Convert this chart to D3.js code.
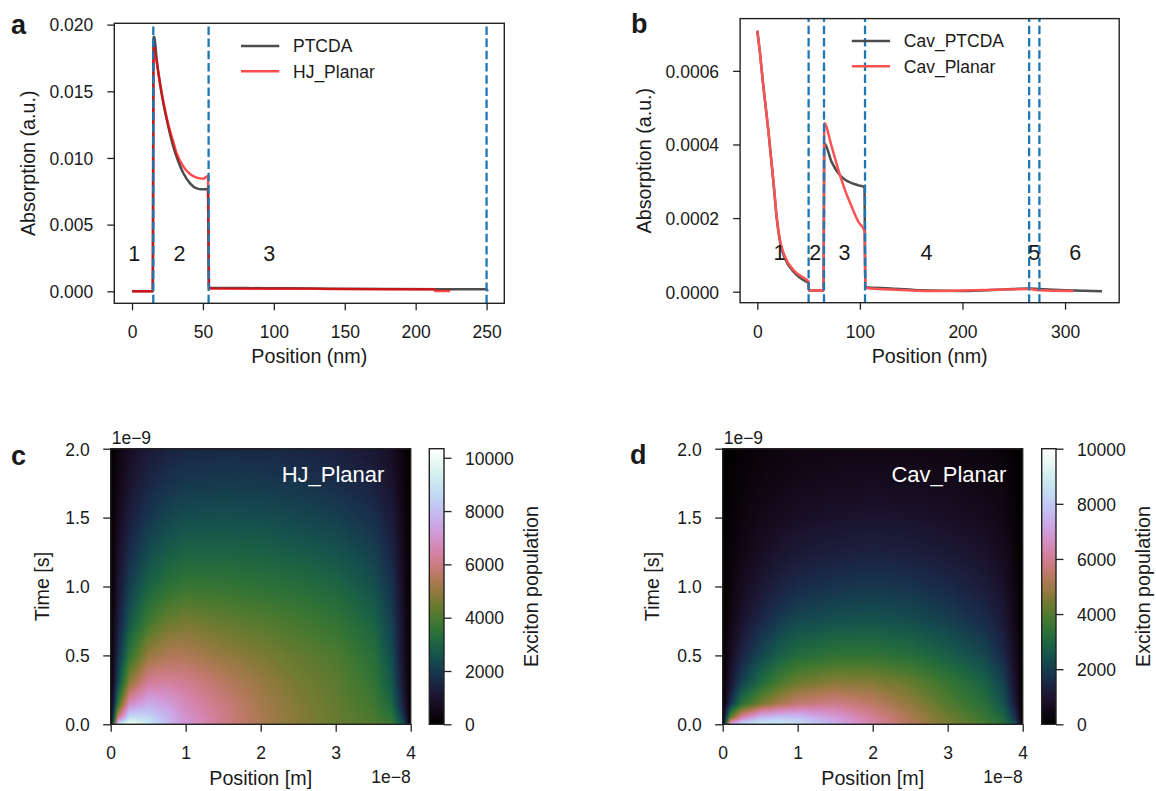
<!DOCTYPE html>
<html>
<head>
<meta charset="utf-8">
<script src="https://cdn.jsdelivr.net/npm/d3@7"></script>
<style>
  body { margin: 0; background: #fff; }
  svg text { font-family: "Liberation Sans", Arial, sans-serif; fill: #1a1a1a; }
</style>
</head>
<body>
<div id="fig"></div>
<script>
// ---------- data ----------
// panel a: absorption (a.u.) vs position (nm)
const ptcdaLine = [[0,0],[14.6,0],[15.2,0.0191],[15.8,0.0190],[17.4,0.01735],[19.7,0.0156],[22.1,0.0141],
  [25.6,0.01235],[29.1,0.01085],[32.7,0.00972],[36.2,0.00885],[40.9,0.0081],[45.6,0.00772],[49.5,0.00765],
  [53.5,0.00767],[54.2,0.00025],[80,0.00024],[110,0.00023],[140,0.0002],[180,0.00017],[220,0.00016],
  [250,0.00016],[250.8,0]];
const hjPlanarLine = [[0,0],[14.6,0],[15.2,0.0183],[15.8,0.0182],[17.4,0.0172],[19.7,0.0156],[22.1,0.0142],
  [25.6,0.0125],[29.1,0.0112],[31.5,0.01035],[36.2,0.00935],[40.9,0.0088],[45.6,0.00853],[50.3,0.00845],
  [53.6,0.00865],[54.3,0.00021],[80,0.0002],[110,0.0002],[140,0.00018],[180,0.00016],[213,0.00015],
  [213.6,0.00003],[224.3,0.00003]];
const layerBoundsA = [15, 54, 250];
const regionNamesA = ["1", "2", "3"];
const regionPosA = [1.6, 33.4, 96.8];
const regionLevelA = 0.00285;

// panel b
const cavPtcdaLine = [[0,0.000709],[2.6,0.000648],[5.9,0.000557],[10.7,0.000439],[15.6,0.0003],[18.9,0.0002],
  [22.1,0.000135],[27,0.00009],[35.1,0.000055],[48.2,0.000027],[49.8,0.000025],[50.4,0.000003],[64.5,0.000003],
  [65.3,0.000403],[72.5,0.000352],[79,0.000322],[85.5,0.000304],[92,0.000295],[98.5,0.000289],[104.5,0.000284],
  [105.3,0.000012],[130,0.000009],[160,0.000004],[200,0.000002],[240,0.000006],[265,0.000009],[275,0.000007],
  [300,0.000004],[336,0.000001]];
const cavPlanarLine = [[0,0.000709],[2.6,0.000648],[5.9,0.000557],[10.7,0.000439],[15.6,0.000304],[18.9,0.000204],
  [22.1,0.00014],[27,0.000095],[35.1,0.000059],[48.2,0.000032],[49.8,0.000028],[50.4,0.000003],[64.5,0.000003],
  [65.3,0.000458],[72.5,0.000394],[79,0.000331],[85.5,0.000276],[92,0.000231],[98.5,0.00019],[104.5,0.000165],
  [105.3,0.00001],[130,0.000006],[170,0.000002],[210,0.000004],[240,0.000006],[265,0.000007],[275,0.000004],
  [308,0.000002]];
const layerBoundsB = [50, 65, 105, 265, 275];
const regionNamesB = ["1", "2", "3", "4", "5", "6"];
const regionPosB = [21.5, 56.5, 85, 165, 270, 310];
const regionLevelB = 0.000106;

// panels c, d: exciton population on a (position 1e-8 m, time 1e-9 s) grid
const heatX = [0, 0.1, 0.25, 0.5, 0.75, 1.0, 1.5, 2.0, 2.5, 3.0, 3.5, 3.75, 3.9, 4.0];
const heatT = [0, 0.05, 0.15, 0.3, 0.5, 0.75, 1.0, 1.25, 1.5, 1.75, 2.0];
const hjPlanarPop = [
  [0, 9000, 10300, 9300, 8000, 7100, 6100, 5300, 4800, 4400, 4100, 3800, 2600, 0],
  [0, 6000, 8800, 8600, 7800, 7000, 6100, 5300, 4800, 4400, 4000, 3500, 1900, 0],
  [0, 3700, 6800, 7600, 7300, 6700, 5950, 5250, 4750, 4350, 3850, 3050, 1350, 0],
  [0, 2400, 4900, 6300, 6400, 6200, 5600, 5050, 4600, 4250, 3650, 2700, 1050, 0],
  [0, 1750, 3600, 5000, 5400, 5400, 5000, 4700, 4350, 4050, 3400, 2400, 900, 0],
  [0, 1300, 2650, 3800, 4400, 4600, 4350, 4150, 3900, 3600, 3000, 2100, 800, 0],
  [0, 1050, 2100, 3000, 3450, 3700, 3650, 3500, 3350, 3100, 2550, 1800, 700, 0],
  [0, 850, 1650, 2400, 2800, 3000, 3000, 2950, 2800, 2600, 2150, 1500, 600, 0],
  [0, 650, 1300, 1900, 2250, 2450, 2500, 2450, 2300, 2130, 1750, 1230, 490, 0],
  [0, 500, 1000, 1500, 1800, 1950, 2000, 1980, 1880, 1720, 1400, 980, 400, 0],
  [0, 380, 780, 1180, 1400, 1550, 1600, 1580, 1500, 1360, 1100, 780, 320, 0]
];
const cavPlanarPop = [
  [0, 7200, 8600, 9000, 8900, 8500, 7400, 6300, 5300, 4500, 3800, 3300, 2300, 0],
  [0, 4200, 6200, 7600, 7900, 7800, 7000, 6050, 5150, 4350, 3600, 2950, 1750, 0],
  [0, 1700, 3300, 4400, 5100, 5600, 5900, 5450, 4800, 4000, 3250, 2450, 1150, 0],
  [0, 1000, 2100, 3100, 3850, 4350, 4700, 4650, 4250, 3600, 2850, 2050, 880, 0],
  [0, 650, 1400, 2200, 2800, 3150, 3450, 3450, 3250, 2800, 2200, 1500, 660, 0],
  [0, 420, 930, 1500, 1950, 2250, 2450, 2500, 2380, 2060, 1620, 1130, 480, 0],
  [0, 280, 640, 1060, 1360, 1580, 1780, 1880, 1780, 1540, 1200, 860, 365, 0],
  [0, 190, 440, 740, 960, 1120, 1270, 1340, 1280, 1120, 880, 630, 260, 0],
  [0, 130, 300, 510, 660, 780, 890, 950, 910, 800, 620, 450, 185, 0],
  [0, 85, 200, 350, 450, 540, 620, 660, 630, 560, 430, 320, 130, 0],
  [0, 55, 135, 235, 310, 370, 420, 440, 420, 370, 290, 215, 90, 0]
];
const colorMaxC = 10340;
const colorMaxD = 10000;
const colorTicks = [0, 2000, 4000, 6000, 8000, 10000];

// ---------- drawing ----------
const TICK_FS = 17.5, LABEL_FS = 19.7;
const svg = d3.select("#fig").append("svg")
    .attr("width", 1156)
    .attr("height", 791)
    .style("background", "#fff");
const defs = svg.append("defs");

function styleAxis(sel) {
  sel.attr("font-size", null).attr("font-family", null);
  sel.select(".domain").remove();
  sel.selectAll(".tick line").attr("stroke", "#222").attr("stroke-width", 1.3);
  sel.selectAll(".tick text").attr("fill", "#1a1a1a").style("font-size", TICK_FS + "px");
}

function frame(g, b) {
  g.append("rect")
    .attr("x", b.x0).attr("y", b.y0)
    .attr("width", b.x1 - b.x0).attr("height", b.y1 - b.y0)
    .attr("fill", "none").attr("stroke", "#222").attr("stroke-width", 1.4);
}

function letter(t, x, y) {
  svg.append("text").attr("x", x).attr("y", y)
    .style("font-size", "27px").style("font-weight", "bold").text(t);
}

function linePanel(o) {
  const b = o.box;
  const x = d3.scaleLinear().domain(o.xDomain).range([b.x0, b.x1]);
  const y = d3.scaleLinear().domain(o.yDomain).range([b.y1, b.y0]);
  const g = svg.append("g");

  defs.append("clipPath").attr("id", o.id + "-clip")
    .append("rect").attr("x", b.x0).attr("y", b.y0)
    .attr("width", b.x1 - b.x0).attr("height", b.y1 - b.y0);
  const plot = g.append("g").attr("clip-path", `url(#${o.id}-clip)`);

  const line = d3.line().x(d => x(d[0])).y(d => y(d[1])).curve(d3.curveMonotoneX);
  o.series.forEach(s => {
    plot.append("path")
      .attr("d", line(s.data))
      .attr("fill", "none")
      .attr("stroke", s.color)
      .attr("stroke-opacity", s.opacity)
      .attr("stroke-width", 2.5)
      .attr("stroke-linejoin", "round");
  });

  plot.selectAll("line.bound")
    .data(o.bounds)
    .join("line")
      .attr("class", "bound")
      .attr("x1", d => x(d)).attr("x2", d => x(d))
      .attr("y1", b.y1).attr("y2", b.y0)
      .attr("stroke", "#1f77b4")
      .attr("stroke-width", 2.3)
      .attr("stroke-dasharray", "8.5,3.7");

  g.append("g").selectAll("text")
    .data(o.regionNames)
    .join("text")
      .attr("x", (d, i) => x(o.regionPos[i]))
      .attr("y", y(o.regionLevel))
      .attr("dy", "0.36em")
      .attr("text-anchor", "middle")
      .style("font-size", "21.5px")
      .text(d => d);

  g.append("g").attr("transform", `translate(0,${b.y1})`)
    .call(d3.axisBottom(x).tickValues(o.xTicks).tickFormat(d3.format("d")).tickSize(7).tickPadding(15.5))
    .call(styleAxis);
  g.append("g").attr("transform", `translate(${b.x0},0)`)
    .call(d3.axisLeft(y).tickValues(o.yTicks).tickFormat(d3.format(o.yFormat)).tickSize(7).tickPadding(14))
    .call(styleAxis)
    .selectAll(".tick text").attr("dy", "0.36em");
  frame(g, b);

  g.append("text")
    .attr("x", (b.x0 + b.x1) / 2).attr("y", 363)
    .attr("text-anchor", "middle").style("font-size", LABEL_FS + "px")
    .text("Position (nm)");
  g.append("text")
    .attr("transform", `translate(${o.yLabelX},${(b.y0 + b.y1) / 2}) rotate(-90)`)
    .attr("text-anchor", "middle").style("font-size", LABEL_FS + "px")
    .text("Absorption (a.u.)");

  const lg = g.append("g");
  o.series.forEach((s, i) => {
    const ly = o.legend.y + i * 25.3;
    lg.append("line")
      .attr("x1", o.legend.x).attr("x2", o.legend.x + 38.3)
      .attr("y1", ly).attr("y2", ly)
      .attr("stroke", s.color).attr("stroke-opacity", s.opacity).attr("stroke-width", 2.5);
    lg.append("text")
      .attr("x", o.legend.x + 52).attr("y", ly).attr("dy", "0.36em")
      .style("font-size", "17.5px").text(s.name);
  });
}

const cubeLut = d3.range(1024).map(i => d3.rgb(d3.interpolateCubehelixDefault(i / 1023)));

function heatPanel(o) {
  const b = o.box;
  const x = d3.scaleLinear().domain([0, 4]).range([b.x0, b.x1]);
  const y = d3.scaleLinear().domain([0, 2]).range([b.y1, b.y0]);
  const g = svg.append("g");

  // raster of the population grid, shaded between grid nodes
  const cw = Math.round(b.x1 - b.x0), ch = Math.round(b.y1 - b.y0);
  const canvas = document.createElement("canvas");
  canvas.width = cw; canvas.height = ch;
  const ctx = canvas.getContext("2d");
  const img = ctx.createImageData(cw, ch);
  const pxPos = d3.scaleLinear().domain([0, cw]).range([0, 4]);
  const pxTime = d3.scaleLinear().domain([0, ch]).range([2, 0]);
  const xi = d3.scaleLinear().domain(heatX).range(heatX.map((_, i) => i)).clamp(true);
  const ti = d3.scaleLinear().domain(heatT).range(heatT.map((_, i) => i)).clamp(true);
  const norm = d3.scaleLinear().domain([0, o.vmax]).range([0, 1023]).clamp(true);
  const Z = o.values;
  for (let py = 0; py < ch; py++) {
    const ft = ti(pxTime(py + 0.5));
    const t0 = Math.min(Math.floor(ft), heatT.length - 2), v = ft - t0;
    for (let px = 0; px < cw; px++) {
      const fx = xi(pxPos(px + 0.5));
      const x0 = Math.min(Math.floor(fx), heatX.length - 2), u = fx - x0;
      const val = (1 - v) * ((1 - u) * Z[t0][x0] + u * Z[t0][x0 + 1]) +
                  v * ((1 - u) * Z[t0 + 1][x0] + u * Z[t0 + 1][x0 + 1]);
      const c = cubeLut[Math.round(norm(val))];
      const k = (py * cw + px) * 4;
      img.data[k] = c.r; img.data[k + 1] = c.g; img.data[k + 2] = c.b; img.data[k + 3] = 255;
    }
  }
  ctx.putImageData(img, 0, 0);
  g.append("image")
    .attr("href", canvas.toDataURL())
    .attr("x", b.x0).attr("y", b.y0)
    .attr("width", b.x1 - b.x0).attr("height", b.y1 - b.y0)
    .attr("preserveAspectRatio", "none");

  g.append("text")
    .attr("x", x(o.tagPos)).attr("y", 482)
    .style("font-size", "22px").style("fill", "#fff")
    .text(o.tag);

  g.append("g").attr("transform", `translate(0,${b.y1})`)
    .call(d3.axisBottom(x).tickValues([0, 1, 2, 3, 4]).tickFormat(d3.format("d")).tickSize(7.5).tickPadding(15))
    .call(styleAxis);
  g.append("g").attr("transform", `translate(${b.x0},0)`)
    .call(d3.axisLeft(y).tickValues([0, 0.5, 1, 1.5, 2]).tickFormat(d3.format(".1f")).tickSize(7.5).tickPadding(13.5))
    .call(styleAxis)
    .selectAll(".tick text").attr("dy", "0.36em");
  frame(g, b);

  g.append("text").attr("x", b.x0 + 1).attr("y", 443.5)
    .style("font-size", TICK_FS + "px").text("1e\u22129");
  g.append("text").attr("x", b.x1).attr("y", 783).attr("text-anchor", "end")
    .style("font-size", TICK_FS + "px").text("1e\u22128");
  g.append("text")
    .attr("x", (b.x0 + b.x1) / 2).attr("y", 785)
    .attr("text-anchor", "middle").style("font-size", LABEL_FS + "px")
    .text("Position [m]");
  g.append("text")
    .attr("transform", `translate(${o.yLabelX},${(b.y0 + b.y1) / 2}) rotate(-90)`)
    .attr("text-anchor", "middle").style("font-size", LABEL_FS + "px")
    .text("Time [s]");

  // colorbar
  const cb = o.cbar;
  const cy = d3.scaleLinear().domain([0, o.vmax]).range([cb.y1, cb.y0]);
  const grad = defs.append("linearGradient").attr("id", o.id + "-grad")
    .attr("x1", 0).attr("y1", 1).attr("x2", 0).attr("y2", 0);
  grad.selectAll("stop")
    .data(d3.range(41))
    .join("stop")
      .attr("offset", d => d / 40)
      .attr("stop-color", d => d3.interpolateCubehelixDefault(d / 40));
  g.append("rect")
    .attr("x", cb.x0).attr("y", cb.y0)
    .attr("width", cb.x1 - cb.x0).attr("height", cb.y1 - cb.y0)
    .attr("fill", `url(#${o.id}-grad)`);
  g.append("g").attr("transform", `translate(${cb.x1},0)`)
    .call(d3.axisRight(cy).tickValues(colorTicks).tickFormat(d3.format("d")).tickSize(7.5).tickPadding(13.5))
    .call(styleAxis)
    .selectAll(".tick text").attr("dy", "0.36em");
  frame(g, cb);
  g.append("text")
    .attr("transform", `translate(${o.cbLabelX},${(cb.y0 + cb.y1) / 2}) rotate(-90)`)
    .attr("text-anchor", "middle").style("font-size", LABEL_FS + "px")
    .text("Exciton population");
}

linePanel({
  id: "a",
  box: {x0: 114.3, x1: 504.3, y0: 23.3, y1: 303.3},
  xDomain: [-12.5, 262.5], yDomain: [-0.0009, 0.0201],
  xTicks: [0, 50, 100, 150, 200, 250],
  yTicks: [0, 0.005, 0.01, 0.015, 0.02], yFormat: ".3f",
  series: [
    {name: "PTCDA", data: ptcdaLine, color: "#000", opacity: 0.7},
    {name: "HJ_Planar", data: hjPlanarLine, color: "#ff0000", opacity: 0.7}
  ],
  bounds: layerBoundsA,
  regionNames: regionNamesA, regionPos: regionPosA, regionLevel: regionLevelA,
  legend: {x: 241, y: 46},
  yLabelX: 35
});

linePanel({
  id: "b",
  box: {x0: 740.1, x1: 1119.2, y0: 18.6, y1: 302.7},
  xDomain: [-16.8, 352.8], yDomain: [-0.0000299, 0.000742],
  xTicks: [0, 100, 200, 300],
  yTicks: [0, 0.0002, 0.0004, 0.0006], yFormat: ".4f",
  series: [
    {name: "Cav_PTCDA", data: cavPtcdaLine, color: "#4d4d4d", opacity: 1},
    {name: "Cav_Planar", data: cavPlanarLine, color: "#ff5252", opacity: 1}
  ],
  bounds: layerBoundsB,
  regionNames: regionNamesB, regionPos: regionPosB, regionLevel: regionLevelB,
  legend: {x: 851.8, y: 41},
  yLabelX: 651
});

heatPanel({
  id: "c",
  box: {x0: 110.7, x1: 410.7, y0: 448.7, y1: 724.3},
  cbar: {x0: 429.3, x1: 444, y0: 448.7, y1: 724.3},
  values: hjPlanarPop, vmax: colorMaxC,
  tag: "HJ_Planar", tagPos: 2.28,
  yLabelX: 49, cbLabelX: 538
});

heatPanel({
  id: "d",
  box: {x0: 722.7, x1: 1022.7, y0: 448.7, y1: 724.3},
  cbar: {x0: 1041.7, x1: 1056, y0: 448.7, y1: 724.3},
  values: cavPlanarPop, vmax: colorMaxD,
  tag: "Cav_Planar", tagPos: 2.25,
  yLabelX: 659, cbLabelX: 1150
});

letter("a", 11, 33.5);
letter("b", 631, 33);
letter("c", 11, 465);
letter("d", 630, 464);
</script>
</body>
</html>
